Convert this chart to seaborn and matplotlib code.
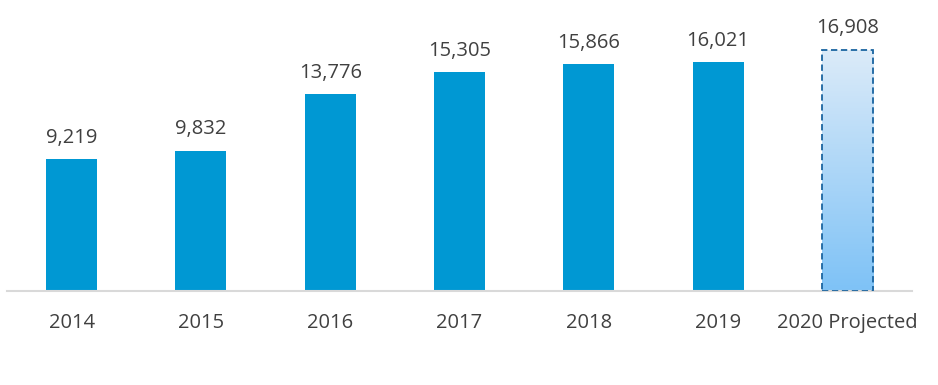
import matplotlib
matplotlib.use("Agg")
import matplotlib.pyplot as plt
import seaborn as sns
import numpy as np
import pandas as pd
from matplotlib.colors import LinearSegmentedColormap

categories = ["2014", "2015", "2016", "2017", "2018", "2019", "2020 Projected"]
values = [9219, 9832, 13776, 15305, 15866, 16021, 16908]
value_labels = ["9,219", "9,832", "13,776", "15,305", "15,866", "16,021", "16,908"]

sns.set_theme(style="white")
plt.rcParams['font.family'] = ['Open Sans', 'DejaVu Sans']

fig = plt.figure(figsize=(9.38, 3.85), dpi=100)
ax = fig.add_axes([7/938, 94/385, 905/938, 281/385])

df = pd.DataFrame({"cat": categories, "val": values})
solid = "#0098D3"
palette = {c: solid for c in categories}
sns.barplot(data=df, x="cat", y="val", hue="cat", palette=palette, legend=False,
            width=0.395, ax=ax, saturation=1, linewidth=0)

# projected bar: gradient fill with dashed border
proj = ax.patches[-1]
proj.set_facecolor("none")
proj.set_edgecolor("#1A64A0")
proj.set_linestyle((0, (3.5, 2)))
proj.set_linewidth(1.3)
x0 = proj.get_x(); w = proj.get_width(); h = proj.get_height()
cmap = LinearSegmentedColormap.from_list("g", ["#7EC2F6", "#DCEBF9"])
grad = np.linspace(0, 1, 256).reshape(-1, 1)
im = ax.imshow(grad, cmap=cmap, aspect="auto", extent=[x0, x0 + w, 0, h],
               origin="lower", zorder=proj.get_zorder() - 0.1)
im.set_clip_path(proj)
proj.set_zorder(3)

ax.set_xlim(-0.5, 6.5)
ax.set_ylim(0, 281 / ((291 - 49.5) / 16908))

for i, (v, lab) in enumerate(zip(values, value_labels)):
    ax.annotate(lab, (i, v), xytext=(0, 8), textcoords="offset points",
                ha="center", va="bottom", fontsize=14.5, color="#404040")

for s in ["top", "right", "left"]:
    ax.spines[s].set_visible(False)
ax.spines["bottom"].set_color("#D9D9D9")
ax.spines["bottom"].set_linewidth(1.5)
ax.set_yticks([])
ax.set_xlabel(""); ax.set_ylabel("")
ax.tick_params(axis="x", length=0, pad=16, labelsize=14.5, labelcolor="#404040")

fig.savefig("out.png", dpi=100)
